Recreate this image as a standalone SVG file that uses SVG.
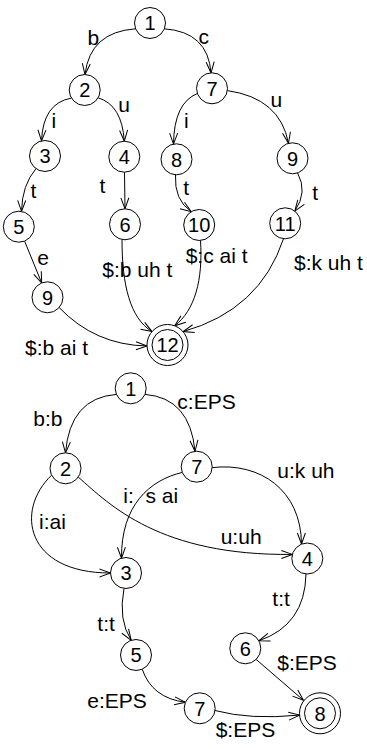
<svg xmlns="http://www.w3.org/2000/svg" width="367" height="749" viewBox="0 0 367 749">
<style>
.n circle{fill:#fff;stroke:#000;stroke-width:1}
.n text{font-family:"Liberation Sans",Arial,sans-serif;font-size:20px;text-anchor:middle;fill:#000}
.e path{fill:none;stroke:#000;stroke-width:1;marker-end:url(#arr)}
.l{font-family:"Liberation Sans",Arial,sans-serif;font-size:21px;fill:#000}
</style>
<defs>
<marker id="arr" markerUnits="userSpaceOnUse" markerWidth="14" markerHeight="12" viewBox="-12 -6 14 12" refX="0" refY="0" orient="auto" overflow="visible">
<path d="M-11,-4 L0,0 L-11,4" fill="none" stroke="#000" stroke-width="1"/>
</marker>
</defs>
<rect width="367" height="749" fill="#fff"/>
<g id="connectors" class="e">
<path d="M135.6,28.8 Q90,32 85,74.5"/>
<path d="M164.4,28.8 Q208,32 211,73"/>
<path d="M71.5,98.1 Q43,103 41.5,140.9"/>
<path d="M98.1,97.8 Q122,105 124.3,141.2"/>
<path d="M197.4,93.5 Q174,103 173.5,144.1"/>
<path d="M227.3,90.6 Q280,98 288.5,143.3"/>
<path d="M36,168.6 Q22,185 21.5,211.4"/>
<path d="M124.5,172.2 L125,208.8"/>
<path d="M175.5,174.8 Q174,200 191.3,211.7"/>
<path d="M297.6,173 Q308,192 294.8,211.1"/>
<path d="M24.6,241.1 L41.7,283"/>
<path d="M59.1,307.5 Q95,345 147,346"/>
<path d="M122,239.5 C122,285 130,318 152,331.6"/>
<path d="M200.5,240.4 C203,280 195,310 174.7,325.8"/>
<path d="M283.5,238.7 Q260,310 183.1,331.6"/>
<path d="M116.4,394.4 Q70,398 65.5,452.8"/>
<path d="M145,394.4 Q190,398 195,451.3"/>
<path d="M51.6,475.2 C15,510 25,573 110.5,573"/>
<path d="M78.3,477.1 C110,505 160,556 292.4,554.4"/>
<path d="M182.3,472.4 C150,480 121,505 121.5,558.2"/>
<path d="M212.2,467.6 C260,462 301,490 301.5,544"/>
<path d="M124,588.4 Q118,620 131.2,640.3"/>
<path d="M306,574 Q305,625 258.8,640.8"/>
<path d="M142.2,669.2 Q152,698 185.4,702.3"/>
<path d="M256.1,659.4 L303.5,700.3"/>
<path d="M215,710.5 Q250,720 299.6,715.1"/>
</g>
<g id="labels">
<text class="l" x="87.5" y="44.5">b</text>
<text class="l" x="198.5" y="43.5">c</text>
<text class="l" x="51.5" y="128">i</text>
<text class="l" x="118.3" y="112.3">u</text>
<text class="l" x="184" y="128.3">i</text>
<text class="l" x="270.5" y="106.7">u</text>
<text class="l" x="30.5" y="198">t</text>
<text class="l" x="99.5" y="193.3">t</text>
<text class="l" x="183.3" y="195">t</text>
<text class="l" x="312.3" y="199.7">t</text>
<text class="l" x="37.3" y="265">e</text>
<text class="l" x="102.3" y="276.7">$:b uh t</text>
<text class="l" x="185.7" y="263.3">$:c ai t</text>
<text class="l" x="294" y="270">$:k uh t</text>
<text class="l" x="25" y="355">$:b ai t</text>
<text class="l" x="33.3" y="426">b:b</text>
<text class="l" x="177.3" y="409.3">c:EPS</text>
<text class="l" x="39" y="529.3">i:ai</text>
<text class="l" x="123.3" y="503.3">i:&#160;&#160;s ai</text>
<text class="l" x="277.3" y="478.3">u:k uh</text>
<text class="l" x="220.7" y="544">u:uh</text>
<text class="l" x="97.3" y="630.7">t:t</text>
<text class="l" x="272.3" y="606">t:t</text>
<text class="l" x="87.3" y="708.3">e:EPS</text>
<text class="l" x="277.3" y="670">$:EPS</text>
<text class="l" x="215.7" y="736.7">$:EPS</text>
</g>
<g id="t1" class="n"><circle cx="150" cy="23" r="15.5"/><text x="150" y="30.2">1</text></g>
<g id="t2" class="n"><circle cx="84.7" cy="90" r="15.5"/><text x="84.7" y="97.2">2</text></g>
<g id="t7" class="n"><circle cx="212" cy="88.3" r="15.5"/><text x="212" y="95.5">7</text></g>
<g id="t3" class="n"><circle cx="45" cy="156" r="15.5"/><text x="45" y="163.2">3</text></g>
<g id="t4" class="n"><circle cx="124.3" cy="156.7" r="15.5"/><text x="124.3" y="163.9">4</text></g>
<g id="t8" class="n"><circle cx="176.5" cy="159.3" r="15.5"/><text x="176.5" y="166.5">8</text></g>
<g id="t9" class="n"><circle cx="292.5" cy="158.3" r="15.5"/><text x="292.5" y="165.5">9</text></g>
<g id="t5" class="n"><circle cx="18.8" cy="226.7" r="15.5"/><text x="18.8" y="233.9">5</text></g>
<g id="t6" class="n"><circle cx="125" cy="224.3" r="15.5"/><text x="125" y="231.5">6</text></g>
<g id="t10" class="n"><circle cx="199.2" cy="225" r="15.5"/><text x="199.2" y="232.2">10</text></g>
<g id="t11" class="n"><circle cx="285.2" cy="223.3" r="15.5"/><text x="285.2" y="230.5">11</text></g>
<g id="t9b" class="n"><circle cx="47.5" cy="297.3" r="15.5"/><text x="47.5" y="304.5">9</text></g>
<g id="t12" class="n"><circle cx="167.5" cy="345" r="20.5"/><circle cx="167.5" cy="345" r="15.5"/><text x="167.5" y="352.2">12</text></g>
<g id="b1" class="n"><circle cx="130.7" cy="388.3" r="15.5"/><text x="130.7" y="395.5">1</text></g>
<g id="b2" class="n"><circle cx="65.5" cy="468.3" r="15.5"/><text x="65.5" y="475.5">2</text></g>
<g id="b7" class="n"><circle cx="196.7" cy="466.7" r="15.5"/><text x="196.7" y="473.9">7</text></g>
<g id="b4" class="n"><circle cx="307.3" cy="558.5" r="15.5"/><text x="307.3" y="565.7">4</text></g>
<g id="b3" class="n"><circle cx="126" cy="573" r="15.5"/><text x="126" y="580.2">3</text></g>
<g id="b5" class="n"><circle cx="136" cy="655" r="15.5"/><text x="136" y="662.2">5</text></g>
<g id="b6" class="n"><circle cx="245.3" cy="648.3" r="15.5"/><text x="245.3" y="655.5">6</text></g>
<g id="b7b" class="n"><circle cx="199.7" cy="708.3" r="15.5"/><text x="199.7" y="715.5">7</text></g>
<g id="b8" class="n"><circle cx="320" cy="713.3" r="20.5"/><circle cx="320" cy="713.3" r="15.5"/><text x="320" y="720.5">8</text></g>
</svg>
